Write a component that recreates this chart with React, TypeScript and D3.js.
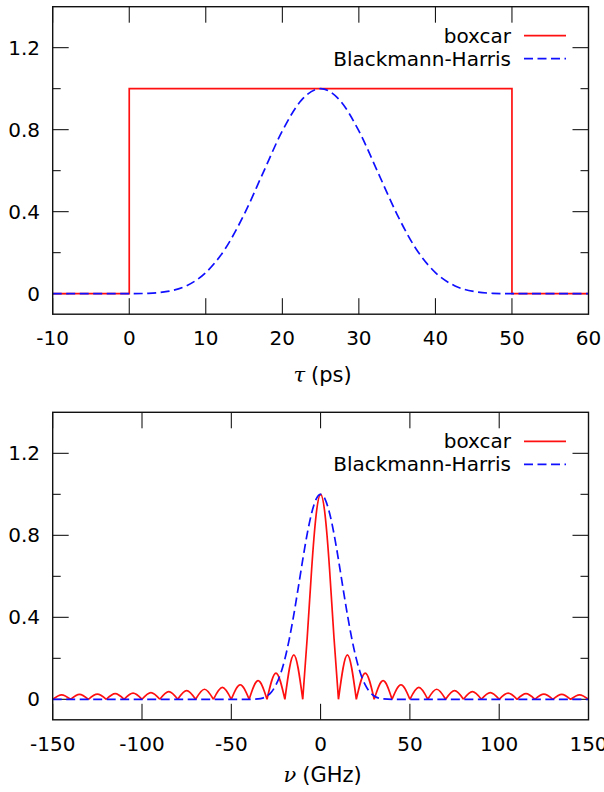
import React from "react";
import * as d3 from "d3";

// ---------- data ----------
// top panel: window functions in time (ps)
const boxcarTau = [-10, 0, 0, 50, 50, 60];
const boxcarW = [0, 0, 1, 1, 0, 0];
const bhTau = [-10, -5, 0, 2.5, 5, 7.5, 10, 12.5, 15, 17.5, 20, 22.5, 25, 27.5, 30, 32.5, 35, 37.5, 40, 42.5, 45, 47.5, 50, 55, 60];
const bhW = [0, 0, 0, 0.002, 0.011, 0.039, 0.103, 0.217, 0.386, 0.591, 0.794, 0.944, 1.0, 0.944, 0.794, 0.591, 0.386, 0.217, 0.103, 0.039, 0.011, 0.002, 0, 0, 0];

// bottom panel: spectra (GHz); boxcar given as zeros and lobe peaks
const boxcarNu = [
  -150, -145, -140, -135, -130, -125, -120, -115, -110, -105, -100, -95, -90, -85, -80, -75, -70, -65, -60, -55, -50,
  -45, -40, -35, -30, -25, -20, -15, -10, -7.5, -5, -2.5, 0, 2.5, 5, 7.5, 10,
  15, 20, 25, 30, 35, 40, 45, 50, 55, 60, 65, 70, 75, 80, 85, 90, 95, 100, 105, 110, 115, 120, 125, 130, 135, 140, 145, 150,
];
const boxcarAmp = [
  0, 0.022, 0, 0.024, 0, 0.025, 0, 0.028, 0, 0.03, 0, 0.033, 0, 0.037, 0, 0.042, 0, 0.049, 0, 0.058, 0,
  0.071, 0, 0.091, 0, 0.128, 0, 0.217, 0, 0.3, 0.637, 0.9, 1.0, 0.9, 0.637, 0.3, 0,
  0.217, 0, 0.128, 0, 0.091, 0, 0.071, 0, 0.058, 0, 0.049, 0, 0.042, 0, 0.037, 0, 0.033, 0, 0.03, 0, 0.028, 0, 0.025, 0, 0.024, 0, 0.022, 0,
];
const bhNu = [-150, -100, -50, -40, -35, -32.5, -30, -27.5, -25, -22.5, -20, -17.5, -15, -12.5, -10, -7.5, -5, -2.5, 0, 2.5, 5, 7.5, 10, 12.5, 15, 17.5, 20, 22.5, 25, 27.5, 30, 32.5, 35, 40, 50, 100, 150];
const bhAmp = [0, 0, 0, 0, 0.002, 0.006, 0.016, 0.036, 0.07, 0.122, 0.197, 0.295, 0.413, 0.545, 0.681, 0.807, 0.909, 0.977, 1.0, 0.977, 0.909, 0.807, 0.681, 0.545, 0.413, 0.295, 0.197, 0.122, 0.07, 0.036, 0.016, 0.006, 0.002, 0, 0, 0, 0];

const topXTicks = [-10, 0, 10, 20, 30, 40, 50, 60];
const botXTicks = [-150, -100, -50, 0, 50, 100, 150];
const yMajor = [0, 0.4, 0.8, 1.2];
const yMinor = [0.2, 0.6, 1.0];
const legendLabels = ["boxcar", "Blackmann-Harris"];

const FONT = "DejaVu Sans";
const FS = 20;
const RED = "#ff1010";
const BLUE = "#1010ff";

type PanelProps = {
  top: number;
  bottom: number;
  xDomain: [number, number];
  xTicks: number[];
  redPath: (x: any, y: any) => string;
  bluePath: (x: any, y: any) => string;
  title: React.ReactNode;
  titleY: number;
};

const LEFT = 52.7;
const RIGHT = 588.5;

function Panel({ top, bottom, xDomain, xTicks, redPath, bluePath, title, titleY }: PanelProps) {
  const x = d3.scaleLinear().domain(xDomain).range([LEFT, RIGHT]);
  const y = d3.scaleLinear().domain([-0.1, 1.4]).range([bottom, top]);
  const clipId = `clip${Math.round(top)}`;
  return (
    <g>
      <defs>
        <clipPath id={clipId}>
          <rect x={LEFT} y={top} width={RIGHT - LEFT} height={bottom - top} />
        </clipPath>
      </defs>
      {/* ticks */}
      {xTicks.map((t) => (
        <g key={"xt" + t}>
          <line x1={x(t)} x2={x(t)} y1={bottom} y2={bottom - 16} stroke="#000" strokeWidth={1} />
          <line x1={x(t)} x2={x(t)} y1={top} y2={top + 16} stroke="#000" strokeWidth={1} />
          <text x={x(t)} y={bottom + 24} dy="0.35em" textAnchor="middle" fontFamily={FONT} fontSize={FS}>
            {String(t)}
          </text>
        </g>
      ))}
      {yMajor.map((t) => (
        <g key={"ym" + t}>
          <line x1={LEFT} x2={LEFT + 16} y1={y(t)} y2={y(t)} stroke="#000" strokeWidth={1} />
          <line x1={RIGHT} x2={RIGHT - 16} y1={y(t)} y2={y(t)} stroke="#000" strokeWidth={1} />
          <text x={40} y={y(t)} dy="0.35em" textAnchor="end" fontFamily={FONT} fontSize={FS}>
            {t === 0 ? "0" : d3.format(".1f")(t)}
          </text>
        </g>
      ))}
      {yMinor.map((t) => (
        <g key={"yn" + t}>
          <line x1={LEFT} x2={LEFT + 8} y1={y(t)} y2={y(t)} stroke="#000" strokeWidth={1} />
          <line x1={RIGHT} x2={RIGHT - 8} y1={y(t)} y2={y(t)} stroke="#000" strokeWidth={1} />
        </g>
      ))}
      {/* curves */}
      <g clipPath={`url(#${clipId})`}>
        <path d={redPath(x, y)} fill="none" stroke={RED} strokeWidth={1.7} />
        <path d={bluePath(x, y)} fill="none" stroke={BLUE} strokeWidth={1.7} strokeDasharray="9,4.5" />
      </g>
      {/* frame */}
      <rect x={LEFT} y={top} width={RIGHT - LEFT} height={bottom - top} fill="none" stroke="#111" strokeWidth={1.4} />
      {/* legend */}
      <text x={511} y={top + 29} dy="0.35em" textAnchor="end" fontFamily={FONT} fontSize={FS}>
        {legendLabels[0]}
      </text>
      <line x1={524} x2={566} y1={top + 29} y2={top + 29} stroke={RED} strokeWidth={1.7} />
      <text x={511} y={top + 52} dy="0.35em" textAnchor="end" fontFamily={FONT} fontSize={FS}>
        {legendLabels[1]}
      </text>
      <line x1={524} x2={566} y1={top + 52} y2={top + 52} stroke={BLUE} strokeWidth={1.7} strokeDasharray="9,4.5" />
      {/* axis title */}
      <text x={(LEFT + RIGHT) / 2 + 2} y={titleY} dy="0.35em" textAnchor="middle" fontFamily={FONT} fontSize={21}>
        {title}
      </text>
    </g>
  );
}

function lobes(xs: number[], ys: number[], x: any, y: any) {
  // split into segments between zeros, each drawn with a natural spline
  const pts = xs.map((v, i) => [v, ys[i]] as [number, number]);
  const gen = d3
    .line<[number, number]>()
    .x((d) => x(d[0]))
    .y((d) => y(d[1]))
    .curve(d3.curveNatural);
  let out = "";
  let seg: [number, number][] = [];
  pts.forEach((p) => {
    seg.push(p);
    if (p[1] === 0 && seg.length > 1) {
      out += gen(seg) || "";
      seg = [p];
    }
  });
  return out;
}

export default function App() {
  const topRed = (x: any, y: any) =>
    d3
      .line<number>()
      .x((d) => x(d))
      .y((_, i) => y(boxcarW[i]))(boxcarTau) || "";
  const topBlue = (x: any, y: any) =>
    d3
      .line<number>()
      .x((d) => x(d))
      .y((_, i) => y(bhW[i]))
      .curve(d3.curveMonotoneX)(bhTau) || "";
  const botRed = (x: any, y: any) => lobes(boxcarNu, boxcarAmp, x, y);
  const botBlue = (x: any, y: any) =>
    d3
      .line<number>()
      .x((d) => x(d))
      .y((_, i) => y(bhAmp[i]))
      .curve(d3.curveMonotoneX)(bhNu) || "";

  return (
    <svg width={604} height={792} style={{ position: "absolute", left: 0, top: 0, background: "#fff" }}>
      <rect width={604} height={792} fill="#fff" />
      <Panel
        top={6.7}
        bottom={314.2}
        xDomain={[-10, 60]}
        xTicks={topXTicks}
        redPath={topRed}
        bluePath={topBlue}
        titleY={375}
        title={
          <>
            <tspan fontFamily="DejaVu Serif" fontStyle="italic">τ</tspan>
            <tspan dx={6}>(ps)</tspan>
          </>
        }
      />
      <Panel
        top={412.3}
        bottom={719.8}
        xDomain={[-150, 150]}
        xTicks={botXTicks}
        redPath={botRed}
        bluePath={botBlue}
        titleY={775}
        title={
          <>
            <tspan fontFamily="DejaVu Serif" fontStyle="italic">ν</tspan>
            <tspan dx={6}>(GHz)</tspan>
          </>
        }
      />
    </svg>
  );
}
